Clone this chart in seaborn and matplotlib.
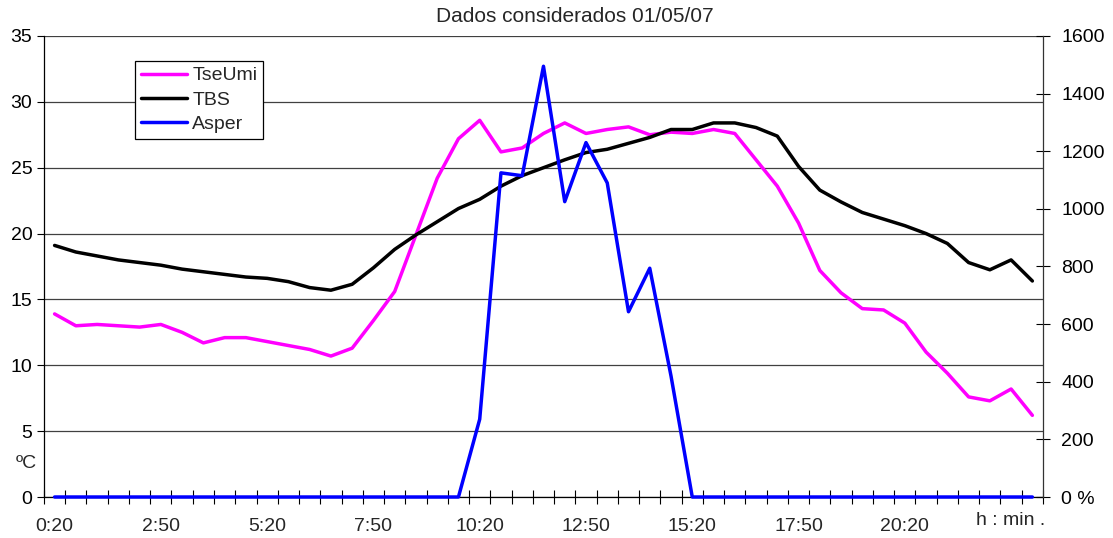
#!/usr/bin/env python
# encoding: utf-8
"""
Dados considerados 01/05/07 : TseUmi, TBS (ºC) e Asper (eixo direito)
"""

import numpy as np
import matplotlib
matplotlib.use("Agg")
import matplotlib.pyplot as plt
import matplotlib.transforms as mtransforms
import seaborn as sns
sns.set_style("white")
plt.rcParams['font.family'] = ['Liberation Sans', 'DejaVu Sans']

# horario das medicoes (de 30 em 30 minutos)
horas = ['0:20', '0:50', '1:20', '1:50', '2:20', '2:50', '3:20', '3:50', '4:20', '4:50',
         '5:20', '5:50', '6:20', '6:50', '7:20', '7:50', '8:20', '8:50', '9:20', '9:50',
         '10:20', '10:50', '11:20', '11:50', '12:20', '12:50', '13:20', '13:50', '14:20', '14:50',
         '15:20', '15:50', '16:20', '16:50', '17:20', '17:50', '18:20', '18:50', '19:20', '19:50',
         '20:20', '20:50', '21:20', '21:50', '22:20', '22:50', '23:20']

tseumi = [13.9, 13.0, 13.1, 13.0, 12.9, 13.1, 12.5, 11.7, 12.1, 12.1,
          11.8, 11.5, 11.2, 10.7, 11.3, 13.4, 15.6, 19.9, 24.2, 27.2,
          28.6, 26.2, 26.5, 27.6, 28.4, 27.6, 27.9, 28.1, 27.5, 27.7,
          27.6, 27.9, 27.6, 25.6, 23.6, 20.8, 17.2, 15.5, 14.3, 14.2,
          13.2, 11.0, 9.4, 7.6, 7.3, 8.2, 6.2]

tbs = [19.1, 18.6, 18.3, 18.0, 17.8, 17.6, 17.3, 17.1, 16.9, 16.7,
       16.6, 16.35, 15.9, 15.7, 16.15, 17.4, 18.8, 19.9, 20.9, 21.9,
       22.6, 23.6, 24.4, 25.0, 25.6, 26.15, 26.4, 26.85, 27.3, 27.9,
       27.9, 28.4, 28.4, 28.05, 27.4, 25.1, 23.3, 22.4, 21.6, 21.1,
       20.6, 20.0, 19.25, 17.8, 17.25, 18.0, 16.4]

asper = [0, 0, 0, 0, 0, 0, 0, 0, 0, 0,
         0, 0, 0, 0, 0, 0, 0, 0, 0, 0,
         270, 1125, 1115, 1495, 1025, 1230, 1090, 643, 794, 420,
         0, 0, 0, 0, 0, 0, 0, 0, 0, 0,
         0, 0, 0, 0, 0, 0, 0]

rotulos_x = ['0:20', '2:50', '5:20', '7:50', '10:20', '12:50', '15:20', '17:50', '20:20']
yticks_esq = [0, 5, 10, 15, 20, 25, 30, 35]
yticks_dir = [0, 200, 400, 600, 800, 1000, 1200, 1400, 1600]
ylabels_dir = ['0 %', '200', '400', '600', '800', '1000', '1200', '1400', '1600']

FS = 14
idx = np.arange(len(horas))

fig = plt.figure(figsize=(11.13, 5.38), dpi=100)
ax = fig.add_axes([0.0395, 0.0762, 0.8976, 0.8569])
ax2 = ax.twinx()

sns.lineplot(x=idx, y=tseumi, ax=ax, color='#FF00FF', lw=2.5, label='TseUmi', clip_on=False)
sns.lineplot(x=idx, y=tbs, ax=ax, color='black', lw=2.5, label='TBS', clip_on=False)
sns.lineplot(x=idx, y=asper, ax=ax2, color='#0000FF', lw=2.5, label='Asper', clip_on=False)

ax.set_xlim(-0.5, len(horas) - 0.5)
ax.set_ylim(0, 35)
ax2.set_ylim(0, 1600)

# eixo esquerdo
ax.set_yticks(yticks_esq)
ax.tick_params(axis='y', left=True, direction='out', length=4.8, width=0.8, pad=3.5,
               labelsize=FS, colors='black')
ax.yaxis.grid(True, color='#404040', lw=0.9)
ax.set_axisbelow(True)

# eixo direito
ax2.set_yticks(yticks_dir)
ax2.set_yticklabels(ylabels_dir)
ax2.tick_params(axis='y', right=True, direction='inout', length=9.4, width=0.8, pad=8.5,
                labelsize=FS, colors='black')

# eixo x: rotulos no centro das categorias, marcas entre categorias
ax.set_xticks(idx[::5][:len(rotulos_x)])
ax.set_xticklabels(rotulos_x)
ax.tick_params(axis='x', which='major', length=0, pad=15, labelsize=FS)
ax.tick_params(axis='x', which='minor', length=0)
ax2.xaxis.set_visible(True)
ax2.set_xticks(np.arange(-0.5, len(horas)), minor=True)
ax2.tick_params(axis='x', which='minor', bottom=True, direction='inout', length=9.4,
                width=0.8, color='black')
ax2.tick_params(axis='x', which='major', length=0, labelbottom=False)

trans = mtransforms.blended_transform_factory(ax.transData, ax.transAxes)
ax.text(45, -0.05, 'h : min .', transform=trans, ha='center', va='center', fontsize=FS)

for s in ['top', 'right']:
    ax.spines[s].set_visible(False)
for s in ['top', 'left', 'bottom']:
    ax2.spines[s].set_visible(False)
for s in ['left', 'bottom']:
    ax.spines[s].set_color('black')
    ax.spines[s].set_linewidth(0.9)
ax2.spines['right'].set_color('#333333')
ax2.spines['right'].set_linewidth(0.9)

ax.set_xlabel('')
ax.set_ylabel('')
ax2.set_ylabel('')

# legenda unica
h1, l1 = ax.get_legend_handles_labels()
h2, l2 = ax2.get_legend_handles_labels()
if ax.get_legend() is not None:
    ax.get_legend().remove()
leg = ax2.legend(h1 + h2, l1 + l2, loc='upper left', bbox_to_anchor=(0.091, 0.946),
                 borderaxespad=0, fontsize=FS, frameon=True, fancybox=False,
                 edgecolor='black', framealpha=1, handlelength=2.4, handletextpad=0.25,
                 borderpad=0.3, labelspacing=0.35)
leg.get_frame().set_linewidth(0.9)

fig.text(575 / 1113, 1 - 17 / 538, 'Dados considerados 01/05/07', ha='center', va='center',
         fontsize=15)
fig.text(26 / 1113, 1 - 463 / 538, 'ºC', ha='center', va='center', fontsize=FS)

fig.savefig('out.png', dpi=100)
